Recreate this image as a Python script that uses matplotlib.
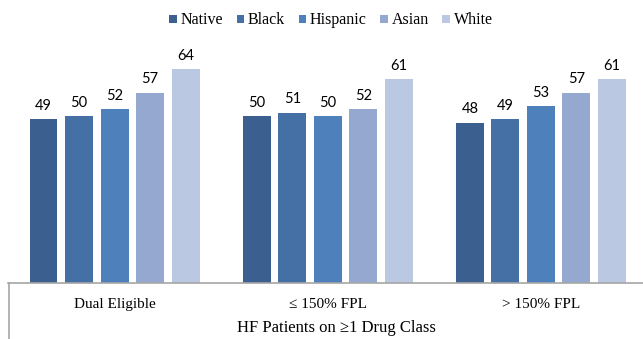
import numpy as np
import matplotlib
matplotlib.use("Agg")
import matplotlib.pyplot as plt
from matplotlib.lines import Line2D

groups = ["Dual Eligible", "\u2264 150% FPL", "> 150% FPL"]
races = ["Native", "Black", "Hispanic", "Asian", "White"]
native = [49, 50, 48]
black = [50, 51, 49]
hispanic = [52, 50, 53]
asian = [57, 52, 57]
white = [64, 61, 61]
colors = ["#3B5F8E", "#4470A5", "#4E80BC", "#94A8D0", "#BAC8E2"]
xlabel = "HF Patients on \u22651 Drug Class"

plt.rcParams["font.family"] = ["Liberation Serif", "DejaVu Serif"]

fig = plt.figure(figsize=(6.43, 3.39), dpi=100)
W, H = 643, 339
base = 339 - 282.5
ax = fig.add_axes([8 / W, base / H, (647.5 - 8) / W, (282.5 - 40) / H])

series = [native, black, hispanic, asian, white]
x = np.arange(len(groups))
pitch = 0.1667
width = 0.131
for i, (vals, c, name) in enumerate(zip(series, colors, races)):
    pos = x + (i - 2) * pitch
    bars = ax.bar(pos, vals, width, color=c, label=name, zorder=2)
    for b, v in zip(bars, vals):
        ax.text(b.get_x() + b.get_width() / 2, v + 1.9, str(v),
                ha="center", va="bottom", fontsize=10.5, family=["Lato", "DejaVu Sans"])

ax.set_xlim(-0.5, 2.5)
ax.set_ylim(0, 72.8)
ax.set_yticks([])
ax.set_xticks(x)
ax.set_xticklabels(groups, fontsize=11)
ax.tick_params(axis="x", length=0, pad=11)
for s in ["top", "right", "left"]:
    ax.spines[s].set_visible(False)
ax.spines["bottom"].set_color("#A6A6A6")
ax.spines["bottom"].set_linewidth(1.2)

# box line on the left below the axis
fig.add_artist(Line2D([8.5 / W, 8.5 / W], [0, base / H], color="#A6A6A6", lw=1.2))

fig.text(336 / W, 1 - 328 / H, xlabel, ha="center", va="center", fontsize=12)

ax.legend(loc="center", bbox_to_anchor=(331 / W, 1 - 20.5 / H),
          bbox_transform=fig.transFigure, ncol=5, frameon=False,
          handlelength=0.45, handleheight=0.45, handletextpad=0.25,
          columnspacing=0.85, fontsize=11.5)

fig.savefig("out.png", dpi=100)
